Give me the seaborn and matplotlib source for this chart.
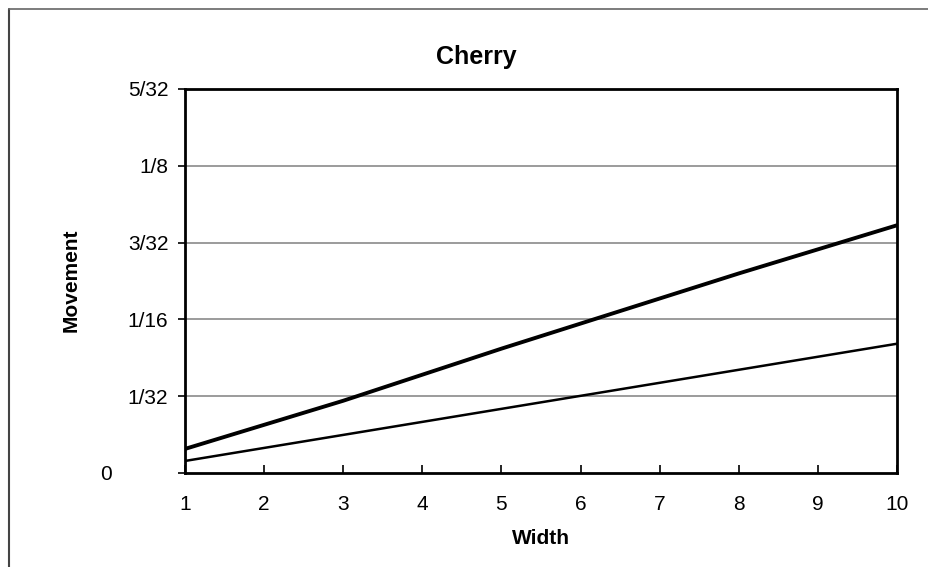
"""
Cherry: movement vs. board width (two lines, read off a scanned chart).
Writes out.png at 929x567.
"""
import matplotlib

matplotlib.use("Agg")
import matplotlib.pyplot as plt
import matplotlib.transforms as mtransforms
from matplotlib.lines import Line2D
import pandas as pd
import seaborn as sns

# ---- data ------------------------------------------------------------------- #
widths = [1, 2, 3, 4, 5, 6, 7, 8, 9, 10]
movement_thick = [0.0098, 0.0196, 0.0294, 0.0400, 0.0506,
                  0.0608, 0.0710, 0.0812, 0.0910, 0.1008]
movement_thin = [0.0049, 0.0102, 0.0155, 0.0208, 0.0261,
                 0.0314, 0.0367, 0.0420, 0.0473, 0.0526]

y_ticks = [0, 1 / 32, 1 / 16, 3 / 32, 1 / 8, 5 / 32]
y_tick_labels = ["0", "1/32", "1/16", "3/32", "1/8", "5/32"]

sns.set_style("white")
plt.rcParams["font.family"] = ["Liberation Sans", "DejaVu Sans"]
plt.rcParams["text.color"] = "black"

df = pd.DataFrame({
    "Width": widths * 2,
    "Movement": movement_thick + movement_thin,
    "series": ["thick"] * len(widths) + ["thin"] * len(widths),
})

fig = plt.figure(figsize=(9.29, 5.67), dpi=100)
ax = fig.add_axes([185 / 929, 1 - 473 / 567, 712 / 929, 384 / 567])

# gridlines first so the data lines sit on top
for yv in y_ticks[1:-1]:
    ax.axhline(yv, color="#8a8a8a", lw=1.2, zorder=1)

sns.lineplot(
    data=df, x="Width", y="Movement", hue="series", size="series",
    sizes={"thick": 2.8, "thin": 1.8},
    palette={"thick": "black", "thin": "black"},
    legend=False, ax=ax, zorder=3,
)

ax.set_xlim(1, 10)
ax.set_ylim(0, 5 / 32)
ax.set_xticks(widths)
ax.set_yticks(y_ticks)
ax.set_yticklabels(y_tick_labels)

for side in ["left", "right", "top", "bottom"]:
    ax.spines[side].set_visible(True)
    ax.spines[side].set_color("black")
    ax.spines[side].set_linewidth(2.0)

ax.tick_params(axis="x", direction="in", length=6, width=1.2, pad=16,
               labelsize=15, colors="black", bottom=True)
ax.tick_params(axis="y", direction="out", length=5, width=1.2, pad=7,
               labelsize=15, colors="black", left=True)

# the "0" label sits further left in the scan
zero_label = ax.get_yticklabels()[0]
zero_label.set_transform(zero_label.get_transform()
                         + mtransforms.ScaledTranslation(-56 / 100, 0, fig.dpi_scale_trans))

ax.set_xlabel("")
ax.set_ylabel("")
fig.text(541 / 929, 1 - 538 / 567, "Width", ha="center", va="center",
         fontsize=15, fontweight="bold", color="black")
fig.text(71 / 929, 1 - 280 / 567, "Movement", ha="center", va="center",
         rotation=90, fontsize=15, fontweight="bold", color="black")
fig.text(476 / 929, 1 - 57 / 567, "Cherry", ha="center", va="center",
         fontsize=18, fontweight="bold", color="black")

# outer chart-area frame (left and top edges visible in the scan)
fig.add_artist(Line2D([9 / 929, 9 / 929], [0, 1 - 9 / 567],
                      transform=fig.transFigure, color="#444444", lw=1.5))
fig.add_artist(Line2D([9 / 929, 1], [1 - 9 / 567, 1 - 9 / 567],
                      transform=fig.transFigure, color="#666666", lw=1.2))

fig.savefig("out.png", dpi=100)
plt.close(fig)
